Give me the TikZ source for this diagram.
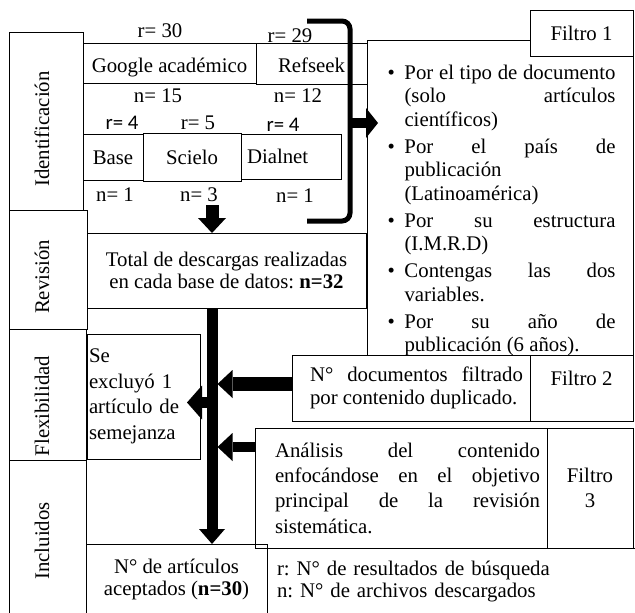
\documentclass[tikz,border=0pt]{standalone}
\usepackage{fontspec}
\setmainfont{Liberation Serif}
\newfontfamily\calibri{Carlito}
\usetikzlibrary{arrows.meta}
\frenchspacing

% one bullet line of the filter list
\newcommand{\critItem}{\par\vspace{3.5pt}\noindent\hangindent=20pt\hangafter=1\makebox[20pt][l]{\hspace{3pt}\textbullet}}

\begin{document}
\begin{tikzpicture}[x=1pt, y=-1pt,
    font=\fontsize{20.8pt}{23.5pt}\selectfont,
    box/.style={draw, line width=1pt, inner sep=0pt, outer sep=0pt},
    lab/.style={anchor=base, inner sep=0pt},
    side/.style={rotate=90, inner sep=0pt},
    bigArrow/.style={line width=11pt, -{Triangle[length=15pt, width=28pt, line width=0pt]}},
  ]
  \useasboundingbox (0,0) rectangle (635,613);

  % Phase column on the left
  \node[box, minimum width=74pt, minimum height=178pt] (ident) at (46,121) {};
  \node[box, minimum width=78pt, minimum height=119pt] (revis) at (48,269.5) {};
  \node[box, minimum width=77pt, minimum height=131pt] (flexi) at (47.5,394.5) {};
  \node[box, minimum width=77pt, minimum height=160pt] (inclu) at (47.5,540) {};
  \node[side] (identTxt) at (42,129) {Identificación};
  \node[side] (revisTxt) at (42,277) {Revisión};
  \node[side] (flexiTxt) at (42,406) {Flexibilidad};
  \node[side] (incluTxt) at (42,541) {Incluidos};

  % Search engines and data bases
  \node[box, minimum width=173pt, minimum height=40pt, text height=20pt, text depth=2pt] (google) at (169.5,63) {Google académico};
  \node[box, minimum width=111pt, minimum height=41pt, text height=20pt, text depth=2pt] (refseek) at (311.5,63.5) {Refseek};
  \node[box, minimum width=60pt, minimum height=46pt, text height=14pt, text depth=0pt] (base) at (113,157) {Base};
  \node[box, minimum width=98pt, minimum height=48pt, text height=14pt, text depth=0pt] (scielo) at (192,157) {Scielo};
  \node[box, text width=88pt, inner xsep=6pt, minimum height=45pt, align=left] (dialnet) at (291,156.5) {Dialnet};

  % Results and downloads
  \node[lab] (rGoogle) at (160,37) {r= 30};
  \node[lab] (rRefseek) at (290,42) {r= 29};
  \node[lab] (nGoogle) at (158,102) {n= 15};
  \node[lab] (nRefseek) at (298,102) {n= 12};
  \node[lab, font=\calibri\fontsize{20.8pt}{23.5pt}\selectfont] (rBase) at (122,129) {r= 4};
  \node[lab] (rScielo) at (198,129) {r= 5};
  \node[lab, font=\calibri\fontsize{20.8pt}{23.5pt}\selectfont] (rDialnet) at (283,131) {r= 4};
  \node[lab] (nBase) at (115,201) {n= 1};
  \node[lab] (nScielo) at (199,201) {n= 3};
  \node[lab] (nDialnet) at (295,202) {n= 1};

  % Filter 1
  \node[box, text width=231pt, inner xsep=17.5pt, minimum height=312pt, align=justify] (criterios) at (500,198) {%
    \vspace*{12pt}%
    \critItem Por el tipo de documento\linebreak (solo artículos\linebreak científicos)
    \critItem Por el país de\linebreak publicación\newline (Latinoamérica)
    \critItem Por su estructura\linebreak (I.M.R.D)
    \critItem Contengas las dos\linebreak variables.
    \critItem Por su año de\linebreak publicación (6 años).\par};
  \node[box, fill=white, minimum width=103pt, minimum height=46pt] (filtro1) at (581.5,33) {Filtro 1};
  \draw[line width=5pt, rounded corners=8pt] (307,21) -- (350,21) -- (350,221) -- (307,221);
  \coordinate (braceMid) at (350,123);
  \draw[line width=10pt, -{Triangle[length=12pt, width=30pt, line width=0pt]}, shorten >=-11pt] (braceMid) -- (criterios.west |- braceMid);

  % Review
  \node[box, minimum width=279pt, minimum height=75pt, align=center, font=\fontsize{20.8pt}{22pt}\selectfont] (total) at (226.5,270.5) {Total de descargas realizadas\\ en cada base de datos: \textbf{n=32}};

  % Flexibility
  \node[box, text width=109pt, inner xsep=2pt, minimum height=125pt, align=left, font=\fontsize{20.8pt}{25.5pt}\selectfont] (excluido) at (143.5,396.5) {Se\\ excluyó 1\\ artículo de\\ semejanza};

  % Filter 2 and filter 3
  \node[box, text width=224pt, inner xsep=7pt, minimum height=66pt, align=justify] (duplicado) at (411,388) {\leftskip=11pt N° documentos filtrado\linebreak por contenido duplicado.\par};
  \node[box, minimum width=103pt, text height=30pt, text depth=36pt] (filtro2) at (581.5,388) {Filtro 2};
  \node[box, text width=278pt, inner xsep=7pt, minimum height=120pt, align=justify, font=\fontsize{20.8pt}{25.3pt}\selectfont] (analisis) at (401,488) {\leftskip=13pt Análisis del contenido\linebreak enfocándose en el objetivo\linebreak principal de la revisión\linebreak sistemática.\par};
  \node[box, minimum width=86pt, minimum height=120pt, align=center, font=\fontsize{20.8pt}{25.3pt}\selectfont] (filtro3) at (590,488) {Filtro\\ 3};

  % Included
  \node[box, minimum width=181pt, minimum height=71pt, align=center, font=\fontsize{20.8pt}{22pt}\selectfont] (aceptados) at (176.5,579.5) {N° de artículos\\ aceptados (\textbf{n=30})};
  \node[box, text width=353pt, inner xsep=10pt, minimum height=67pt, align=left, font=\fontsize{20.8pt}{22pt}\selectfont] (leyenda) at (453.5,581.5) {r: N° de resultados de búsqueda\\ n: N° de archivos descargados};

  % Thick arrows
  \coordinate (mainX) at (212,0);
  \draw[bigArrow, line width=13pt, shorten <=4pt] (nScielo.south -| mainX) -- (total.north -| mainX);
  \draw[bigArrow, -{Triangle[length=15pt, width=26pt, line width=0pt]}] (total.south -| mainX) -- (aceptados.north -| mainX);
  \draw[bigArrow, -{Triangle[length=15pt, width=34pt, line width=0pt]}, shorten >=-13pt] ([yshift=-6pt]excluido.east -| mainX) -- ([yshift=-6pt]excluido.east);
  \draw[bigArrow, line width=14pt, shorten >=5.5pt] ([yshift=4pt]duplicado.west) -- ([yshift=4pt]duplicado.west -| mainX);
  \draw[bigArrow, line width=10pt, shorten >=5.5pt] ([yshift=-19pt]analisis.north west) -- ([yshift=-19pt]analisis.north west -| mainX);
\end{tikzpicture}
\end{document}
